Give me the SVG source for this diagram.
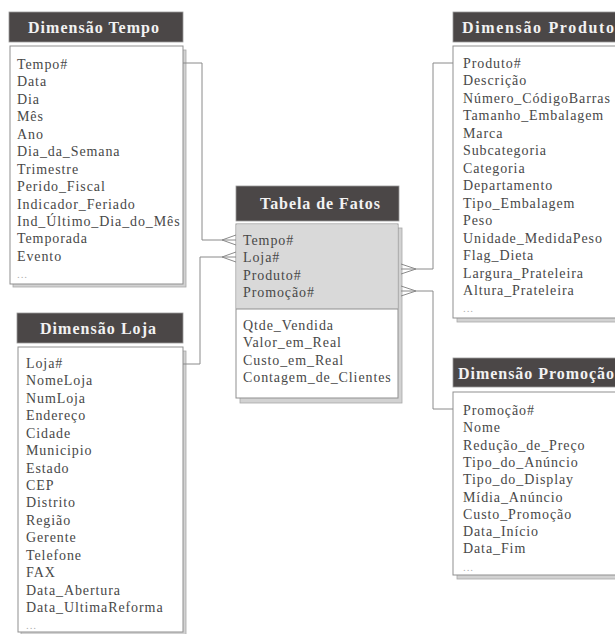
<svg xmlns="http://www.w3.org/2000/svg" width="615" height="634" viewBox="0 0 615 634">
  <style>
    .hdr { fill: #4b4747; stroke: #9a9a9a; stroke-width: 0.8; }
    .ttl { font-family: "Liberation Serif", "Times New Roman", serif; font-size: 16px; font-weight: bold; fill: #f2f2f2; }
    .shadow { fill: #d2d2d2; stroke: #a8a8a8; stroke-width: 0.8; }
    .body { fill: #ffffff; stroke: #8f8f8f; stroke-width: 1; }
    .keys { fill: #d9d9d9; }
    .sep { stroke: #8f8f8f; stroke-width: 1; }
    .row { font-family: "Liberation Serif", "Times New Roman", serif; font-size: 14px; letter-spacing: 0.9px; fill: #484848; }
    .more { fill: #b0b0b0; font-size: 11px; }
    .link { fill: none; stroke: #8a8a8a; stroke-width: 1; }
  </style>

  <!-- Time dimension -->
  <g id="dim-tempo">
    <rect class="hdr" x="9" y="12" width="174" height="30"/>
    <text class="ttl" x="28" y="33" textLength="131" lengthAdjust="spacing">Dimensão Tempo</text>
    <rect class="shadow" x="13" y="50" width="173" height="237"/>
    <rect class="body" x="10" y="46" width="173" height="238"/>
    <text class="row" x="17" y="69">
      <tspan x="17">Tempo#</tspan>
      <tspan x="17" dy="17.45">Data</tspan>
      <tspan x="17" dy="17.45">Dia</tspan>
      <tspan x="17" dy="17.45">Mês</tspan>
      <tspan x="17" dy="17.45">Ano</tspan>
      <tspan x="17" dy="17.45">Dia_da_Semana</tspan>
      <tspan x="17" dy="17.45">Trimestre</tspan>
      <tspan x="17" dy="17.45">Perido_Fiscal</tspan>
      <tspan x="17" dy="17.45">Indicador_Feriado</tspan>
      <tspan x="17" dy="17.45">Ind_Último_Dia_do_Mês</tspan>
      <tspan x="17" dy="17.45">Temporada</tspan>
      <tspan x="17" dy="17.45">Evento</tspan>
      <tspan x="17" dy="17.45" class="more">...</tspan>
    </text>
  </g>

  <!-- Store dimension -->
  <g id="dim-loja">
    <rect class="hdr" x="17" y="313" width="166" height="30"/>
    <text class="ttl" x="40" y="333.5" textLength="116" lengthAdjust="spacing">Dimensão Loja</text>
    <rect class="shadow" x="21" y="351" width="165" height="290"/>
    <rect class="body" x="18" y="347" width="165" height="285"/>
    <text class="row" x="26" y="368">
      <tspan x="26">Loja#</tspan>
      <tspan x="26" dy="17.43">NomeLoja</tspan>
      <tspan x="26" dy="17.43">NumLoja</tspan>
      <tspan x="26" dy="17.43">Endereço</tspan>
      <tspan x="26" dy="17.43">Cidade</tspan>
      <tspan x="26" dy="17.43">Municipio</tspan>
      <tspan x="26" dy="17.43">Estado</tspan>
      <tspan x="26" dy="17.43">CEP</tspan>
      <tspan x="26" dy="17.43">Distrito</tspan>
      <tspan x="26" dy="17.43">Região</tspan>
      <tspan x="26" dy="17.43">Gerente</tspan>
      <tspan x="26" dy="17.43">Telefone</tspan>
      <tspan x="26" dy="17.43">FAX</tspan>
      <tspan x="26" dy="17.43">Data_Abertura</tspan>
      <tspan x="26" dy="17.43">Data_UltimaReforma</tspan>
      <tspan x="26" dy="17.43" class="more">...</tspan>
    </text>
  </g>

  <!-- Fact table -->
  <g id="fatos">
    <rect class="hdr" x="236" y="186" width="163" height="35"/>
    <text class="ttl" x="260" y="208.5" textLength="120" lengthAdjust="spacing">Tabela de Fatos</text>
    <rect class="shadow" x="240" y="228" width="162" height="175"/>
    <rect class="body" x="236" y="224" width="162" height="174"/>
    <rect class="keys" x="236.5" y="224.5" width="161" height="84.5"/>
    <line class="sep" x1="236" y1="309" x2="398" y2="309"/>
    <text class="row" x="243" y="245">
      <tspan x="243">Tempo#</tspan>
      <tspan x="243" dy="17.3">Loja#</tspan>
      <tspan x="243" dy="17.3">Produto#</tspan>
      <tspan x="243" dy="17.3">Promoção#</tspan>
    </text>
    <text class="row" x="243" y="330">
      <tspan x="243">Qtde_Vendida</tspan>
      <tspan x="243" dy="17.3">Valor_em_Real</tspan>
      <tspan x="243" dy="17.3">Custo_em_Real</tspan>
      <tspan x="243" dy="17.3">Contagem_de_Clientes</tspan>
    </text>
  </g>

  <!-- Product dimension -->
  <g id="dim-produto">
    <rect class="hdr" x="453" y="12" width="190" height="30"/>
    <text class="ttl" x="462" y="33" textLength="152" lengthAdjust="spacing">Dimensão Produto</text>
    <rect class="shadow" x="457" y="50" width="190" height="272"/>
    <rect class="body" x="453" y="46" width="190" height="272"/>
    <text class="row" x="463" y="68">
      <tspan x="463">Produto#</tspan>
      <tspan x="463" dy="17.46">Descrição</tspan>
      <tspan x="463" dy="17.46">Número_CódigoBarras</tspan>
      <tspan x="463" dy="17.46">Tamanho_Embalagem</tspan>
      <tspan x="463" dy="17.46">Marca</tspan>
      <tspan x="463" dy="17.46">Subcategoria</tspan>
      <tspan x="463" dy="17.46">Categoria</tspan>
      <tspan x="463" dy="17.46">Departamento</tspan>
      <tspan x="463" dy="17.46">Tipo_Embalagem</tspan>
      <tspan x="463" dy="17.46">Peso</tspan>
      <tspan x="463" dy="17.46">Unidade_MedidaPeso</tspan>
      <tspan x="463" dy="17.46">Flag_Dieta</tspan>
      <tspan x="463" dy="17.46">Largura_Prateleira</tspan>
      <tspan x="463" dy="17.46">Altura_Prateleira</tspan>
      <tspan x="463" dy="17.46" class="more">...</tspan>
    </text>
  </g>

  <!-- Promotion dimension -->
  <g id="dim-promocao">
    <rect class="hdr" x="453" y="358" width="190" height="29"/>
    <text class="ttl" x="458" y="378.5" textLength="156" lengthAdjust="spacing">Dimensão Promoção</text>
    <rect class="shadow" x="457" y="396" width="190" height="183"/>
    <rect class="body" x="453" y="392" width="190" height="183"/>
    <text class="row" x="463" y="415">
      <tspan x="463">Promoção#</tspan>
      <tspan x="463" dy="17.3">Nome</tspan>
      <tspan x="463" dy="17.3">Redução_de_Preço</tspan>
      <tspan x="463" dy="17.3">Tipo_do_Anúncio</tspan>
      <tspan x="463" dy="17.3">Tipo_do_Display</tspan>
      <tspan x="463" dy="17.3">Mídia_Anúncio</tspan>
      <tspan x="463" dy="17.3">Custo_Promoção</tspan>
      <tspan x="463" dy="17.3">Data_Início</tspan>
      <tspan x="463" dy="17.3">Data_Fim</tspan>
      <tspan x="463" dy="17.3" class="more">...</tspan>
    </text>
  </g>

  <!-- Relationships: dimension (one) to fact table (many, crow's foot) -->
  <g id="connectors" class="link">
    <path d="M183,63 H202 V240 H222"/>
    <path d="M222,240 L236,235 M222,240 L236,240 M222,240 L236,245"/>
    <path d="M183,364 H200 V257 H222"/>
    <path d="M222,257 L236,252 M222,257 L236,257 M222,257 L236,262"/>
    <path d="M453,63 H433 V269 H416"/>
    <path d="M416,269 L401,264 M416,269 L401,269 M416,269 L401,274"/>
    <path d="M453,409 H433 V291 H416"/>
    <path d="M416,291 L401,286 M416,291 L401,291 M416,291 L401,296"/>
  </g>
</svg>
